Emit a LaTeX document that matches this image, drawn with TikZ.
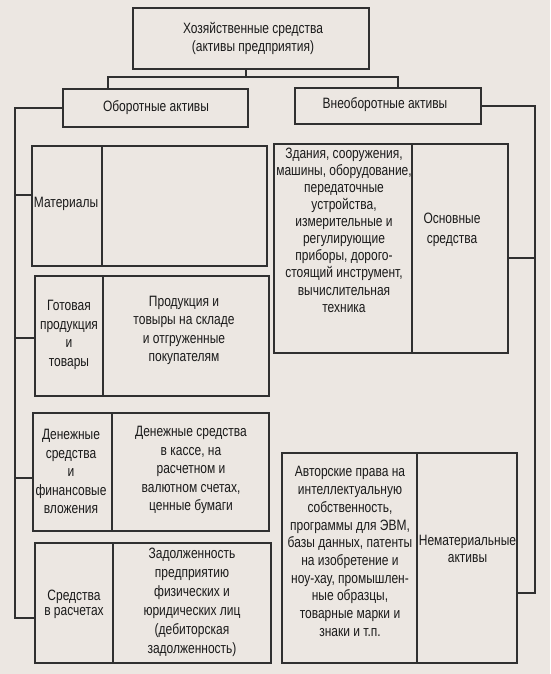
\documentclass[tikz,border=0pt]{standalone}
\usepackage{fontspec}
\setmainfont[FakeStretch=0.80]{Liberation Sans}
\definecolor{bg}{HTML}{ECE7E2}
\definecolor{ln}{HTML}{303030}
\definecolor{tx}{HTML}{1A1A1A}
\begin{document}
\begin{tikzpicture}[x=1pt,y=-1pt,
  cell/.style={draw=ln,line width=1.5pt,rectangle,inner sep=0pt,fill=bg},
  lbl/.style={text=tx,align=center,inner sep=0pt,font=\fontsize{15}{17.5}\selectfont},
  lblw/.style={lbl,font=\fontsize{15}{18.5}\selectfont},
  conn/.style={draw=ln,line width=1.5pt}]
\fill[bg] (0,0) rectangle (550,674);
\useasboundingbox (0,0) rectangle (550,674);
% top level
\node[cell,minimum width=236,minimum height=61] (top) at (251,38.5) {};
\node[cell,minimum width=185,minimum height=38] (ob) at (155.5,108) {};
\node[cell,minimum width=186,minimum height=36] (vob) at (388,106) {};
% left cells
\node[cell,minimum width=70,minimum height=120] (matL) at (67,206) {};
\node[cell,minimum width=165,minimum height=120] (matR) at (184.5,206) {};
\node[cell,minimum width=68,minimum height=120] (gotL) at (69,336) {};
\node[cell,minimum width=166,minimum height=120] (gotR) at (186,336) {};
\node[cell,minimum width=79,minimum height=118] (denL) at (72.5,472) {};
\node[cell,minimum width=157,minimum height=118] (denR) at (190.5,472) {};
\node[cell,minimum width=78,minimum height=120] (srL) at (74,603) {};
\node[cell,minimum width=158,minimum height=120] (srR) at (192,603) {};
% right cells
\node[cell,minimum width=138,minimum height=209] (osL) at (343,248.5) {};
\node[cell,minimum width=96,minimum height=209] (osR) at (460,248.5) {};
\node[cell,minimum width=135,minimum height=210] (nmL) at (349.5,558) {};
\node[cell,minimum width=100,minimum height=210] (nmR) at (467,558) {};
% texts
\node[lbl,font=\fontsize{15}{18}\selectfont] (ttop) at (253,38) {Хозяйственные средства\\(активы предприятия)};
\node[lbl] (tob) at (156,108) {Оборотные активы};
\node[lbl] (tvob) at (385,105) {Внеоборотные активы};
\node[lbl] (tmat) at (66,204) {Материалы};
\node[lblw] (tgotL) at (69,335) {Готовая\\продукция\\и\\товары};
\node[lblw] (tgotR) at (184,330.5) {Продукция и\\товыры на складе\\и отгруженные\\покупателям};
\node[lblw] (tdenL) at (71,471.5) {Денежные\\средства\\и\\финансовые\\вложения};
\node[lblw] (tdenR) at (191,470) {Денежные средства\\в кассе, на\\расчетном и\\валютном счетах,\\ценные бумаги};
\node[lbl,font=\fontsize{15}{15}\selectfont] (tsrL) at (74,604) {Средства\\в расчетах};
\node[lbl,font=\fontsize{15}{19}\selectfont] (tsrR) at (192,602.5) {Задолженность\\предприятию\\физических и\\юридических лиц\\(дебиторская\\задолженность)};
\node[lbl,font=\fontsize{15}{17.1}\selectfont] (tosL) at (344,230) {Здания, сооружения,\\машины, оборудование,\\передаточные\\устройства,\\измерительные и\\регулирующие\\приборы, дорого-\\стоящий инструмент,\\вычислительная\\техника};
\node[lbl,font=\fontsize{15}{20}\selectfont] (tosR) at (452,230) {Основные\\средства};
\node[lbl,font=\fontsize{15}{17.7}\selectfont] (tnmL) at (350,551.5) {Авторские права на\\интеллектуальную\\собственность,\\программы для ЭВМ,\\базы данных, патенты\\на изобретение и\\ноу-хау, промышлен-\\ные образцы,\\товарные марки и\\знаки и т.п.};
\node[lbl,font=\fontsize{15}{17}\selectfont] (tnmR) at (467.5,548.5) {Нематериальные\\активы};
% connectors top
\coordinate (j) at (246,77);
\coordinate (jl) at (108,77);
\coordinate (jr) at (398,77);
\draw[conn] (j |- top.south) -- (j);
\draw[conn] (jl |- ob.north) -- (jl) -- (jr) -- (jr |- vob.north);
% left bus
\coordinate (lb) at (15,108);
\coordinate (b1) at (15,195);
\coordinate (b2) at (15,338);
\coordinate (b3) at (15,478);
\coordinate (b4) at (15,618);
\draw[conn] (ob.west) -- (lb) -- (b4) -- (b4 -| srL.west);
\draw[conn] (b1) -- (b1 -| matL.west);
\draw[conn] (b2) -- (b2 -| gotL.west);
\draw[conn] (b3) -- (b3 -| denL.west);
% right bus
\coordinate (rb) at (535,106);
\coordinate (r1) at (535,258);
\coordinate (r2) at (535,593);
\draw[conn] (vob.east) -- (rb) -- (r2) -- (r2 -| nmR.east);
\draw[conn] (r1) -- (r1 -| osR.east);
\end{tikzpicture}
\end{document}
